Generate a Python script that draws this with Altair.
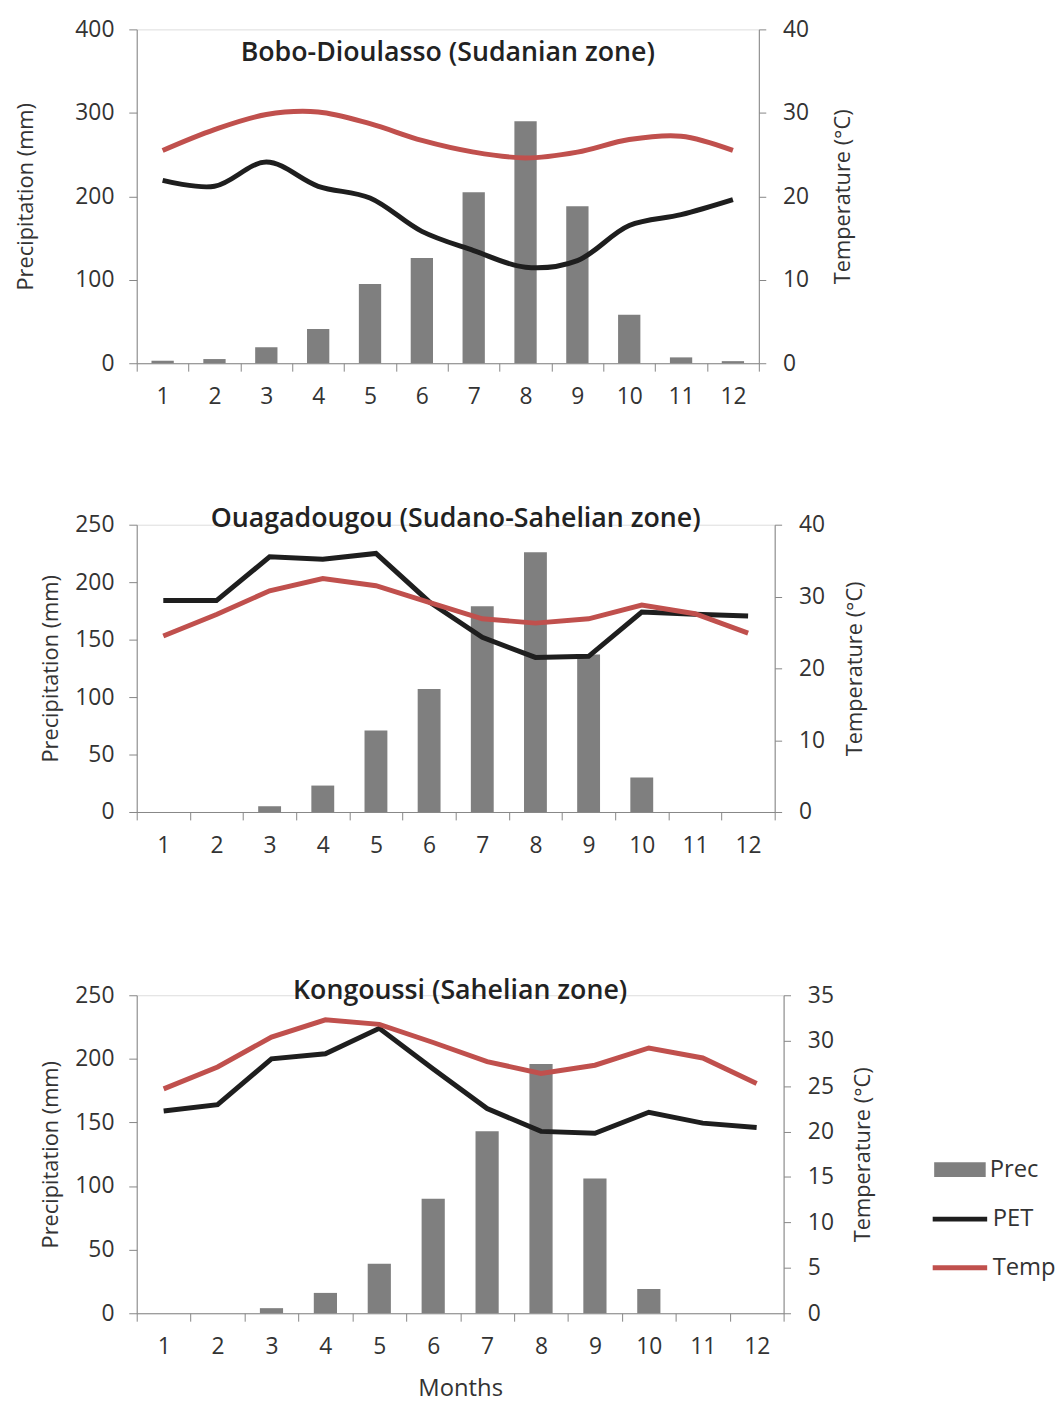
import altair as alt
import pandas as pd

MONTHS = list(range(1, 13))

# Bobo-Dioulasso (Sudanian zone)
bobo_prec = [3, 5, 19, 41, 95, 126, 205, 290, 188, 58, 7, 2.5]
bobo_pet = [219, 212, 241, 212, 198, 158, 135, 115, 123, 165, 178, 196]
bobo_temp = [25.5, 28.0, 29.8, 30.1, 28.7, 26.7, 25.3, 24.6, 25.3, 26.8, 27.2, 25.5]

# Ouagadougou (Sudano-Sahelian zone)
ouaga_prec = [0, 0, 5, 23, 71, 107, 179, 226, 137, 30, 0, 0]
ouaga_pet = [184, 184, 222, 220, 225, 183, 152, 134.5, 135.5, 174, 172, 170.5]
ouaga_temp = [24.5, 27.5, 30.8, 32.5, 31.5, 29.2, 26.9, 26.3, 26.9, 28.8, 27.6, 24.9]

# Kongoussi (Sahelian zone)
kong_prec = [0, 0, 4, 16, 39, 90, 143, 196, 106, 19, 0, 0]
kong_pet = [159, 164, 200, 204, 224, 192, 161, 143, 141.5, 158, 149.5, 146]
kong_temp = [24.7, 27.1, 30.4, 32.3, 31.8, 29.8, 27.7, 26.4, 27.3, 29.2, 28.1, 25.3]

FONT = "Open Sans"
GRAY = "#7f7f7f"
BLACK = "#1e1e1e"
RED = "#c0504d"
AX = "#868686"
TXT = "#333333"


def make_panel(prec, pet, temp, title, title_offset, pmax, pstep, tmax, tstep,
               interp, w, h, ltp, rtp, xtitle, legend):
    df = pd.DataFrame({"Month": MONTHS, "Prec": prec, "PET": pet, "Temp": temp})
    xaxis = alt.Axis(
        title=xtitle, labelAngle=0, tickBand="extent", tickSize=8, labelPadding=15,
        domainColor=AX, tickColor=AX, labelFontSize=23, labelColor=TXT,
        titleFontSize=24, titleColor=TXT, titleFontWeight="normal", titlePadding=18,
        labelFont=FONT, titleFont=FONT,
    )
    x = alt.X("Month:O", axis=xaxis, scale=alt.Scale(paddingInner=0, paddingOuter=0))
    laxis = alt.Axis(
        title="Precipitation (mm)", values=list(range(0, pmax + 1, pstep)), grid=False,
        tickSize=8, labelPadding=15, domainColor=AX, tickColor=AX, labelFontSize=23,
        labelColor=TXT, titleFontSize=22, titleColor=TXT, titleFontWeight="normal",
        titlePadding=ltp, labelFont=FONT, titleFont=FONT,
    )
    raxis = alt.Axis(
        title="Temperature (°C)", orient="right", values=list(range(0, tmax + 1, tstep)),
        grid=False, tickSize=7, labelPadding=17, domainColor=AX, tickColor=AX,
        labelFontSize=23, labelColor=TXT, titleFontSize=22, titleColor=TXT,
        titleFontWeight="normal", titlePadding=rtp, titleAngle=270, titleBaseline="top",
        labelFont=FONT, titleFont=FONT,
    )
    pscale = alt.Scale(domain=[0, pmax], nice=False)
    if legend:
        fill = alt.Fill(
            "s_prec:N", scale=alt.Scale(domain=["Prec"], range=[GRAY]),
            legend=alt.Legend(
                title=None, orient="none", legendX=805, legendY=150,
                symbolType="M-1,-0.29H1V0.29H-1Z", symbolSize=2704,
                symbolStrokeWidth=0, labelFontSize=24, labelFont=FONT,
                labelColor=TXT, labelOffset=4, padding=0,
            ),
        )
        sleg = alt.Legend(
            title=None, orient="none", legendX=801, legendY=196,
            symbolType="stroke", symbolSize=3025, symbolStrokeWidth=5,
            labelFontSize=24, labelFont=FONT, labelColor=TXT, rowPadding=7,
            labelOffset=3, padding=0,
        )
        sscale = alt.Scale(domain=["PET", "Temp"], range=[BLACK, RED])
        stroke_pet = alt.Stroke("s_pet:N", scale=sscale, legend=sleg)
        stroke_temp = alt.Stroke("s_temp:N", scale=sscale, legend=sleg)
    else:
        fill = alt.value(GRAY)
        stroke_pet = alt.value(BLACK)
        stroke_temp = alt.value(RED)

    base = alt.Chart(df).transform_calculate(
        s_prec="'Prec'", s_pet="'PET'", s_temp="'Temp'"
    )
    bars = base.mark_bar(width=alt.RelativeBandSize(0.43)).encode(
        x=x, y=alt.Y("Prec:Q", scale=pscale, axis=laxis), fill=fill
    )
    pet_line = base.mark_line(strokeWidth=5, interpolate=interp).encode(
        x=x, y=alt.Y("PET:Q", scale=pscale, axis=None), stroke=stroke_pet
    )
    temp_line = base.mark_line(strokeWidth=5, interpolate=interp).encode(
        x=x, y=alt.Y("Temp:Q", scale=alt.Scale(domain=[0, tmax], nice=False), axis=raxis),
        stroke=stroke_temp,
    )
    return alt.layer(bars, pet_line, temp_line).resolve_scale(y="independent").properties(
        width=w, height=h,
        title=alt.TitleParams(
            text=title, fontSize=27, font=FONT, fontWeight=600, color="#222222",
            anchor="middle", frame="group", offset=title_offset, baseline="middle",
        ),
    )


p1 = make_panel(bobo_prec, bobo_pet, bobo_temp, "Bobo-Dioulasso (Sudanian zone)", -62,
                400, 100, 40, 10, "catmull-rom", 628, 337, 38, 24, None, False)
p2 = make_panel(ouaga_prec, ouaga_pet, ouaga_temp, "Ouagadougou (Sudano-Sahelian zone)", -32,
                250, 50, 40, 10, "linear", 644, 290, 13, 20, None, False)
p3 = make_panel(kong_prec, kong_pet, kong_temp, "Kongoussi (Sahelian zone)", -34,
                250, 50, 35, 5, "linear", 653, 321, 12, 19, "Months", True)

top = alt.vconcat(p1, p2, spacing=95).resolve_scale(fill="independent", stroke="independent")
chart = alt.vconcat(top, p3, spacing=119).resolve_scale(
    fill="independent", stroke="independent"
).properties(
    padding={"left": 14, "top": 11, "right": 2, "bottom": 2}
).configure_view(strokeWidth=0, stroke="transparent").configure(font=FONT)

chart.save("out.html", embed_options={"renderer": "svg", "actions": False})
